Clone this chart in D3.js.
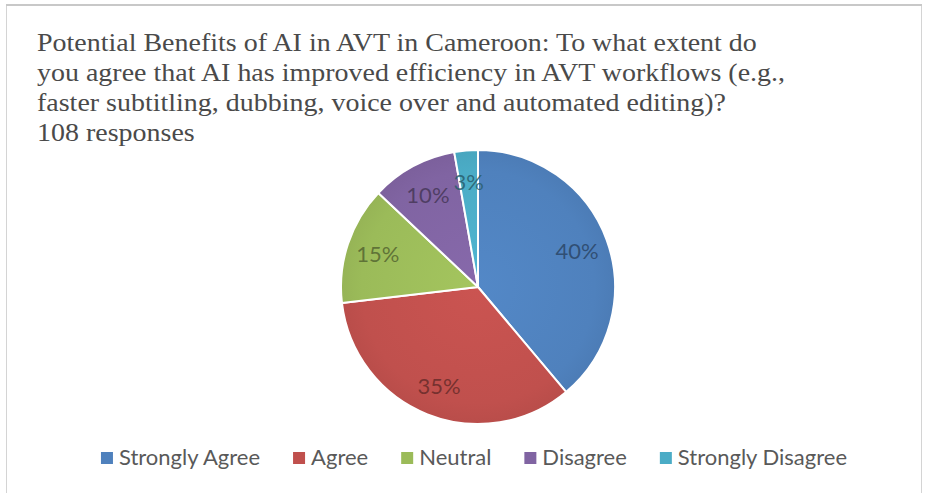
<!DOCTYPE html>
<html>
<head>
<meta charset="utf-8">
<script src="https://cdn.jsdelivr.net/npm/d3@7"></script>
<style>
  html, body { margin: 0; padding: 0; background: #ffffff; }
  svg { display: block; }
</style>
</head>
<body>
<svg id="chart" width="926" height="493"></svg>
<script>
// ---- data ----
const categories = ["Strongly Agree", "Agree", "Neutral", "Disagree", "Strongly Disagree"];
const counts = [42, 37, 15, 11, 3];           // of 108 responses
const percentLabels = ["40%", "35%", "15%", "10%", "3%"];
const titleLines = [
  "Potential Benefits of AI in AVT in Cameroon: To what extent do",
  "you agree that AI has improved efficiency in AVT workflows (e.g.,",
  "faster subtitling, dubbing, voice over and automated editing)?",
  "108 responses"
];
const colors = ["#4f81bd", "#c0504d", "#9bbb59", "#8064a2", "#4bacc6"];

// ---- layout ----
const svg = d3.select("#chart");

// frame
svg.append("rect").attr("x", 6.5).attr("y", 5.5).attr("width", 915).attr("height", 492)
  .attr("fill", "#fff").attr("stroke", "#d4d4d4").attr("stroke-width", 1);
svg.append("line").attr("x1", 6).attr("x2", 922).attr("y1", 5).attr("y2", 5)
  .attr("stroke", "#c8c8c8").attr("stroke-width", 2);

// title
const tg = svg.append("g");
const serif = "'Liberation Serif', 'Times New Roman', serif";
const tText = tg.selectAll("text").data(titleLines).join("text")
  .attr("x", 0)
  .attr("y", (d, i) => 51 + i * 30)
  .attr("font-family", serif)
  .attr("font-size", 26)
  .attr("fill", "#4a4a4a")
  .text(d => d);
const len0 = tText.nodes()[0].getComputedTextLength();
const sx = 720 / len0;
tg.attr("transform", `translate(37,0) scale(${sx},1)`);

// pie
const cx = 478, cy = 287, r = 137;
const pie = d3.pie().sort(null).value(d => d)(counts);
const arc = d3.arc().innerRadius(0).outerRadius(r);
const labelArc = d3.arc().innerRadius(r * 0.77).outerRadius(r * 0.77);
const pg = svg.append("g").attr("transform", `translate(${cx},${cy})`);

const defs = svg.append("defs");
colors.forEach((c, i) => {
  const g = defs.append("radialGradient").attr("id", "grad" + i)
    .attr("gradientUnits", "userSpaceOnUse").attr("cx", 0).attr("cy", 0).attr("r", r);
  g.append("stop").attr("offset", "0%").attr("stop-color", d3.color(c).brighter(0.15));
  g.append("stop").attr("offset", "85%").attr("stop-color", c);
  g.append("stop").attr("offset", "100%").attr("stop-color", d3.color(c).darker(0.1));
});

pg.selectAll("path").data(pie).join("path")
  .attr("d", arc)
  .attr("fill", (d, i) => `url(#grad${i})`)
  .attr("stroke", "#ffffff")
  .attr("stroke-width", 2)
  .attr("stroke-linejoin", "round");

pg.selectAll("text.lbl").data(pie).join("text")
  .attr("class", "lbl")
  .attr("transform", d => `translate(${labelArc.centroid(d)})`)
  .attr("text-anchor", "middle")
  .attr("dominant-baseline", "central")
  .attr("font-family", "Lato, 'Open Sans', sans-serif")
  .attr("font-size", 22)
  .attr("fill", (d, i) => d3.color(colors[i]).darker(1.7))
  .attr("fill-opacity", 0.85)
  .text((d, i) => percentLabels[i]);

// legend
const lg = svg.append("g");
const items = lg.selectAll("g").data(categories).join("g");
items.append("rect").attr("width", 12).attr("height", 12).attr("y", -13)
  .attr("fill", (d, i) => colors[i]);
items.append("text").attr("x", 18).attr("y", 0)
  .attr("font-family", "Lato, 'Open Sans', sans-serif")
  .attr("font-size", 22)
  .attr("fill", "#595959")
  .text(d => d);
const gap = 33;
let x = 0;
const xs = [];
items.each(function () {
  xs.push(x);
  const w = d3.select(this).select("text").node().getComputedTextLength();
  x += 18 + w + gap;
});
const total = x - gap;
const lx0 = 474 - total / 2;
items.attr("transform", (d, i) => `translate(${lx0 + xs[i]},465)`);
</script>
</body>
</html>
